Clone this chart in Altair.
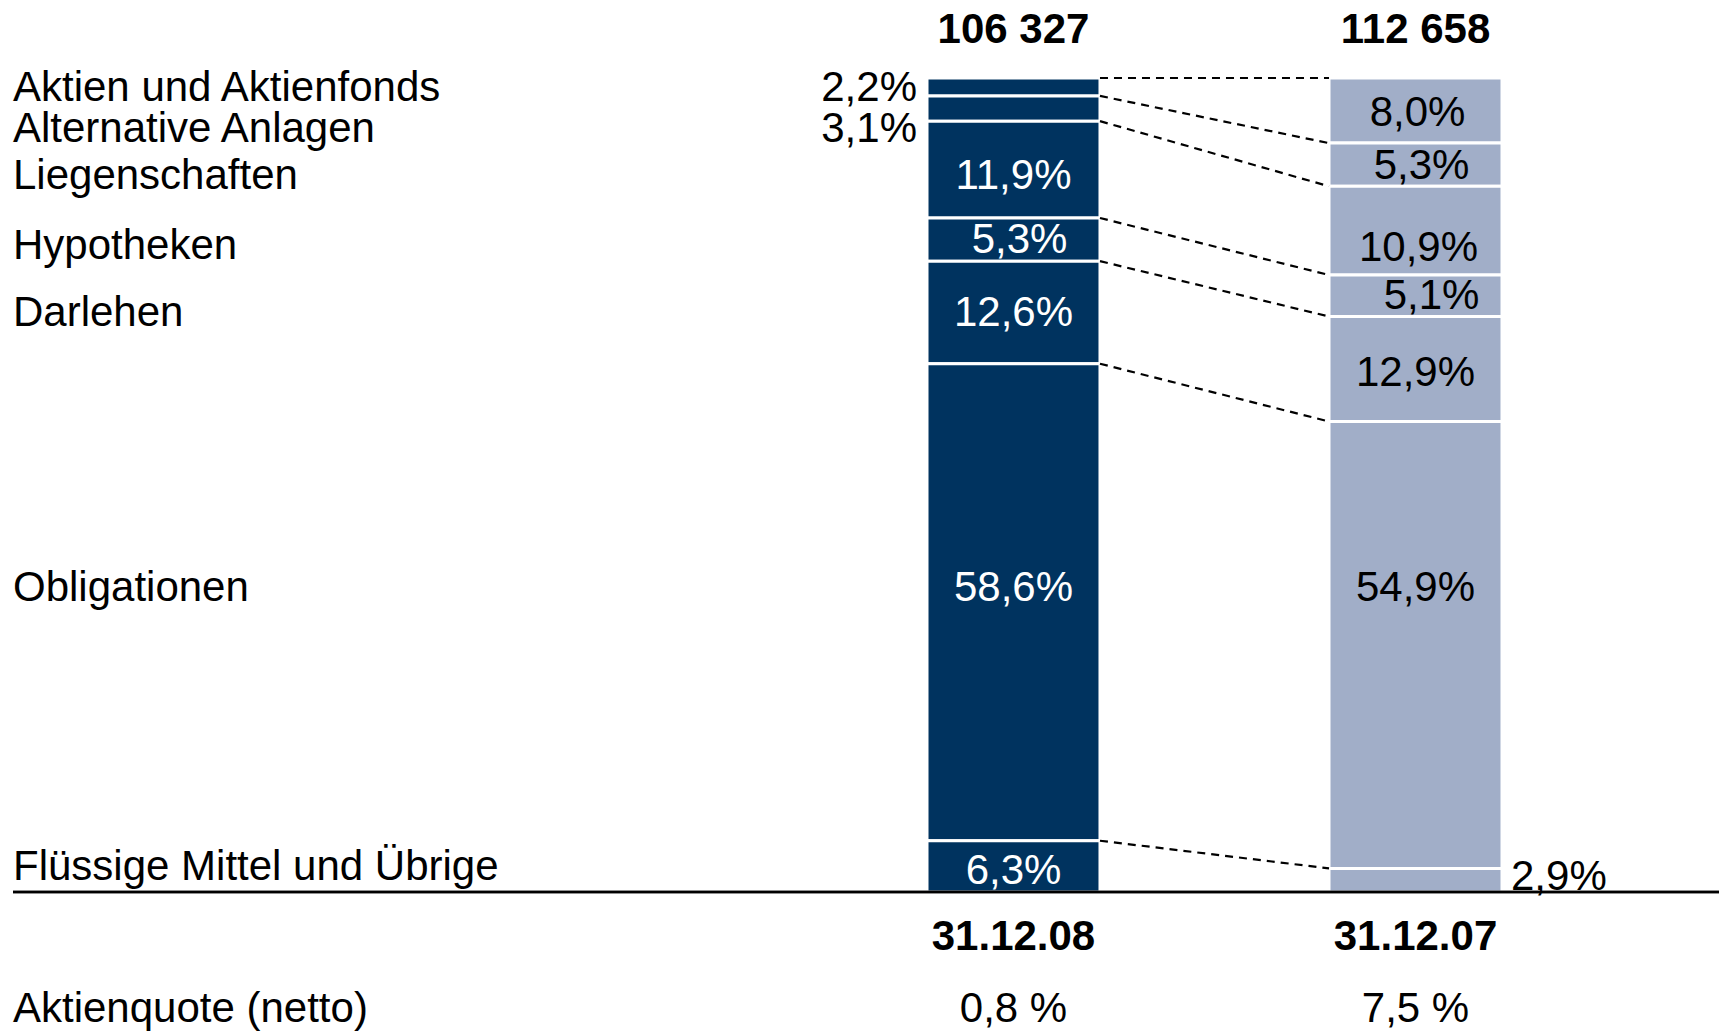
import altair as alt
import pandas as pd

# ---------------- data ----------------
categories = [
    "Aktien und Aktienfonds",
    "Alternative Anlagen",
    "Liegenschaften",
    "Hypotheken",
    "Darlehen",
    "Obligationen",
    "Flüssige Mittel und Übrige",
]
dates = ["31.12.08", "31.12.07"]
share_2008 = [2.2, 3.1, 11.9, 5.3, 12.6, 58.6, 6.3]
share_2007 = [8.0, 5.3, 10.9, 5.1, 12.9, 54.9, 2.9]
totals = ["106 327", "112 658"]
equity_quota = ["0,8 %", "7,5 %"]
equity_label = "Aktienquote (netto)"

# vertical label anchors (percent from top of the bars)
cat_label_pos = [1.2, 6.3, 12.0, 20.6, 28.9, 62.7, 96.9]
label_pos_2008 = [1.2, 6.3, 12.0, 19.9, 28.9, 62.7, 97.4]
label_pos_2007 = [4.3, 10.8, 20.9, 26.8, 36.2, 62.7, 98.2]
label_side_2008 = ["left", "left", "in", "in", "in", "in", "in"]
label_side_2007 = ["in", "in", "in", "in", "in", "in", "right"]
label_nudge_2008 = [0, 0, 0, 6, 0, 0, 0]
label_nudge_2007 = [2, 6, 3, 16, 0, 0, 0]

DARK = "#00335F"
LIGHT = "#A1AEC8"
FONT = "Liberation Sans"
FS = 42


def fmt(v):
    return f"{v:.1f}".replace(".", ",") + "%"


rows = []
for date, shares, lpos, sides, nudges in [
    (dates[0], share_2008, label_pos_2008, label_side_2008, label_nudge_2008),
    (dates[1], share_2007, label_pos_2007, label_side_2007, label_nudge_2007),
]:
    cum = 0.0
    for i, (c, s) in enumerate(zip(categories, shares)):
        rows.append(dict(date=date, cat=c, idx=i, start=cum, end=cum + s,
                         label=fmt(s), lpos=lpos[i], side=sides[i], nudge=nudges[i]))
        cum += s
bars_df = pd.DataFrame(rows)

s08 = bars_df[bars_df.date == dates[0]].reset_index(drop=True)
s07 = bars_df[bars_df.date == dates[1]].reset_index(drop=True)
conn_df = pd.DataFrame({
    "from": [dates[0]] * len(categories),
    "to": [dates[1]] * len(categories),
    "y1": s08["start"],
    "y2": s07["start"],
})

cat_df = pd.DataFrame({"cat": categories, "pos": cat_label_pos})
head_df = pd.DataFrame({"date": dates, "total": totals, "quota": equity_quota})

# ---------------- scales ----------------
x_scale = alt.Scale(type="band", domain=dates, range=[927, 1502],
                    paddingInner=0.5697, paddingOuter=0)
y_scale = alt.Scale(domain=[0, 100], range=[78, 892], zero=False, nice=False)

base = alt.Chart(bars_df)

bars = base.mark_bar(stroke="white", strokeWidth=3).encode(
    x=alt.X("date:N", scale=x_scale, axis=None),
    y=alt.Y("start:Q", scale=y_scale, axis=None),
    y2="end:Q",
    fill=alt.condition(alt.datum.date == dates[0], alt.value(DARK), alt.value(LIGHT)),
)

txt_in_layers = []
for n in sorted(set(label_nudge_2008) | set(label_nudge_2007)):
    txt_in_layers.append(
        base.transform_filter((alt.datum.side == "in") & (alt.datum.nudge == n)).mark_text(
            font=FONT, fontSize=FS, baseline="middle", align="center", dx=n
        ).encode(
            x=alt.X("date:N", scale=x_scale, axis=None),
            y=alt.Y("lpos:Q", scale=y_scale, axis=None),
            text="label:N",
            color=alt.condition(alt.datum.date == dates[0], alt.value("white"), alt.value("black")),
        )
    )

txt_left = base.transform_filter(alt.datum.side == "left").mark_text(
    font=FONT, fontSize=FS, baseline="middle", align="right", dx=-10, color="black"
).encode(
    x=alt.X("date:N", scale=x_scale, axis=None, bandPosition=0),
    y=alt.Y("lpos:Q", scale=y_scale, axis=None),
    text="label:N",
)

txt_right = base.transform_filter(alt.datum.side == "right").mark_text(
    font=FONT, fontSize=FS, baseline="middle", align="left", dx=9, color="black"
).encode(
    x=alt.X("date:N", scale=x_scale, axis=None, bandPosition=1),
    y=alt.Y("lpos:Q", scale=y_scale, axis=None),
    text="label:N",
)

connectors = alt.Chart(conn_df).mark_rule(
    color="black", strokeWidth=2.2, strokeDash=[8, 6]
).encode(
    x=alt.X("from:N", scale=x_scale, axis=None, bandPosition=1),
    x2=alt.X2("to:N", bandPosition=0),
    y=alt.Y("y1:Q", scale=y_scale, axis=None),
    y2="y2:Q",
)

cat_labels = alt.Chart(cat_df).mark_text(
    font=FONT, fontSize=FS, baseline="middle", align="left", color="black"
).encode(
    x=alt.value(13),
    y=alt.Y("pos:Q", scale=y_scale, axis=None),
    text="cat:N",
)

baseline = alt.Chart(head_df).mark_rule(color="black", strokeWidth=2.5).encode(
    x=alt.value(13), x2=alt.value(1719),
    y=alt.datum(100, scale=y_scale),
)

totals_txt = alt.Chart(head_df).mark_text(
    font=FONT, fontSize=FS, fontWeight="bold", baseline="middle", align="center", color="black"
).encode(
    x=alt.X("date:N", scale=x_scale, axis=None),
    y=alt.value(30),
    text="total:N",
)

dates_txt = alt.Chart(head_df).mark_text(
    font=FONT, fontSize=FS, fontWeight="bold", baseline="middle", align="center", color="black"
).encode(
    x=alt.X("date:N", scale=x_scale, axis=None),
    y=alt.value(937),
    text="date:N",
)

quota_txt = alt.Chart(head_df).mark_text(
    font=FONT, fontSize=FS, baseline="middle", align="center", color="black"
).encode(
    x=alt.X("date:N", scale=x_scale, axis=None),
    y=alt.value(1009),
    text="quota:N",
)

quota_label = alt.Chart(pd.DataFrame({"t": [equity_label]})).mark_text(
    font=FONT, fontSize=FS, baseline="middle", align="left", color="black"
).encode(
    x=alt.value(13),
    y=alt.value(1009),
    text="t:N",
)

chart = alt.layer(
    bars, connectors, *txt_in_layers, txt_left, txt_right, cat_labels, baseline,
    totals_txt, dates_txt, quota_txt, quota_label,
).properties(
    width=1719, height=1031,
    autosize=alt.AutoSizeParams(type="none"),
    padding=0,
).configure_view(stroke=None)

chart.save("out.html", embed_options={"renderer": "svg", "actions": False})
